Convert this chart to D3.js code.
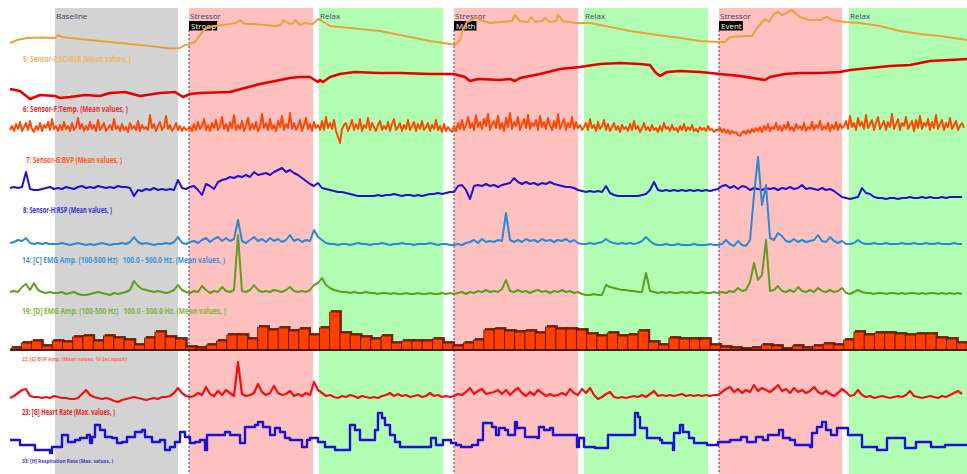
<!DOCTYPE html>
<html>
<head>
<meta charset="utf-8">
<script src="https://cdn.jsdelivr.net/npm/d3@7"></script>
<style>
  body { margin: 0; background: #fff; }
  svg { display: block; }
  text { font-family: "Open Sans", "Liberation Sans", sans-serif; }
</style>
</head>
<body>
<div id="chart"></div>
<script>
// session phases (time in seconds)
const phaseNames = ["Baseline", "Stressor", "Relax", "Stressor", "Relax", "Stressor", "Relax"];
const phaseStart = [90, 358, 618, 888, 1148, 1418, 1678];
const phaseEnd   = [336, 606, 866, 1136, 1396, 1664, 1914];
const eventNames = ["Stroop", "Math", "Event"];
const eventTimes = [358, 888, 1418];
const T_END = 1914;
const SAMPLE_SEC = 8; // uniform series: one value every 8 s
const FAST_SEC = 4;   // raw BVP: one value every 4 s

// 5: GSR  [time, value]
const gsr = [[0,7],[14,10],[34,12],[60,12.5],[90,12],[96,15],[104,13],[120,12],[180,9],[240,6],[280,4],[320,1.5],[340,2],[350,5],[358,5.5],[370,8],[380,15],[390,21],[400,23],[410,24],[424,25],[440,26],[452,27],[460,30],[470,26],[490,26],[510,25],[530,24],[542,25],[546,30],[556,27],[564,26],[570,30],[580,25],[590,27],[606,26],[616,31],[624,29],[640,24],[680,22],[740,19],[800,13],[840,9],[880,6],[890,5],[900,10],[906,20],[914,28],[924,30],[932,33],[940,30],[960,27],[980,28],[1004,29],[1010,35],[1020,29],[1036,28],[1042,33],[1050,28],[1064,29],[1070,32],[1080,28],[1092,29],[1096,35],[1106,29],[1130,27],[1160,27],[1200,23],[1240,19],[1280,16],[1340,12],[1380,9],[1416,8],[1430,8],[1440,13],[1470,14],[1484,14],[1494,22],[1504,28],[1510,31],[1518,28],[1528,36],[1536,38],[1544,35],[1550,36],[1556,38],[1564,40],[1572,36],[1580,33],[1600,30],[1620,30],[1634,33],[1644,30],[1670,28],[1700,27],[1740,24],[1780,19],[1820,16],[1860,14],[1914,10]];

// 6: Temp  [time, value]
const temp = [[0,11],[20,9],[40,1],[60,5],[90,4],[100,2],[120,3],[150,5],[180,4],[200,7],[230,8],[260,4],[300,7],[330,8],[346,3],[360,6],[380,7],[440,8],[470,12],[500,16],[530,19],[560,22],[580,23],[600,23],[616,18],[620,20],[626,18],[640,23],[660,26],[690,28],[740,27],[780,27],[840,26],[888,26],[910,23],[920,19],[936,21],[980,20],[1000,21],[1010,19],[1020,22],[1060,26],[1100,31],[1140,33],[1180,36],[1220,37],[1260,36],[1280,35],[1290,28],[1300,24],[1314,28],[1340,29],[1380,28],[1420,26],[1460,24],[1510,20],[1520,23],[1550,26],[1580,27],[1620,27],[1660,28],[1680,30],[1720,32],[1760,34],[1800,35],[1840,39],[1880,40],[1914,41]];

// 7: BVP (uniform, 4 s)
const bvpRaw = [5,9,4,11,6,13,4,8,12,5,14,6,3,9,5,12,4,10,7,13,5,16,6,9,
  4,10,5,13,6,9,4,12,5,8,17,6,11,4,9,5,13,6,10,4,15,5,8,12,4,7,10,5,16,6,9,4,11,5,8,3,12,6,9,5,14,4,10,6,8,5,20,7,11,4,9,13,5,8,19,6,10,4,7,12,5,9,4,8,5,6,
  8,4,11,5,13,6,9,16,5,10,4,12,7,15,5,9,18,6,11,4,13,7,20,5,10,6,14,4,9,17,5,11,6,13,4,8,21,7,12,5,16,6,10,4,14,8,19,5,11,7,22,6,12,5,9,15,4,10,17,6,11,4,13,7,10,5,
  14,5,18,7,12,6,15,4,-2,-8,6,10,
  12,4,9,15,5,11,6,16,4,10,7,17,5,12,8,4,10,14,5,9,6,13,4,11,16,5,8,12,4,10,6,15,5,9,13,4,11,6,14,5,8,12,4,10,6,15,5,9,3,11,4,8,5,3,
  9,4,12,6,15,5,10,18,7,12,5,20,8,13,6,16,9,21,5,11,14,7,19,6,12,4,17,8,22,6,13,9,18,5,11,16,7,20,6,12,9,15,5,19,8,13,6,17,10,5,14,7,21,6,11,16,5,12,8,18,6,13,7,10,5,8,
  12,5,16,7,10,4,13,6,9,15,5,11,4,8,12,5,9,3,10,6,8,4,11,5,14,6,9,3,7,12,5,8,4,10,5,7,3,9,4,12,6,8,4,10,5,7,3,9,5,11,4,8,5,10,4,6,3,8,5,7,4,9,5,6,3,5,
  5,7,3,6,2,5,1,4,2,3,0,-1,2,4,1,5,2,6,3,7,4,8,3,9,5,11,4,8,6,12,5,9,4,10,6,13,5,8,4,11,6,9,5,12,4,8,6,13,5,10,7,14,5,9,6,12,4,10,6,13,5,11,7,9,
  14,6,19,8,12,5,17,9,13,6,20,7,11,15,5,12,18,6,10,14,5,13,8,21,6,11,16,5,12,9,18,6,10,14,4,15,7,19,6,12,9,16,5,13,7,20,6,11,15,5,12,8,17,6,10,14,5,9,12,7];

// 8: RSP channel trace (uniform)
const bvpMean = [12,13,12,13,28,11,10,10,11,12,13,11,
  12,11,13,12,11,13,14,12,13,12,14,13,12,13,12,14,13,13,12,4,10,9,11,10,12,10,11,10,11,10,20,12,11,
  13,14,10,5,16,14,11,18,20,21,23,22,24,23,25,23,28,25,26,27,25,28,30,32,28,30,27,25,22,19,16,14,17,
  12,11,10,9,8,8,7,6,5,4,4,4,4,4,5,4,5,5,6,5,4,5,5,4,5,4,5,6,6,7,6,7,8,
  8,14,15,10,1,14,15,14,16,14,15,13,15,16,17,22,18,16,18,16,17,15,17,16,18,16,15,14,13,13,12,10,9,
  8,9,8,9,8,14,7,5,4,4,4,4,4,4,5,6,10,18,10,9,10,9,10,9,10,9,10,9,10,9,10,9,10,
  11,14,15,12,14,11,14,13,10,12,11,10,12,11,12,10,12,11,13,11,12,15,11,12,11,10,12,10,11,9,6,3,
  2,1,2,3,12,7,6,3,2,2,1,2,2,1,2,2,3,2,2,3,2,3,2,2,3,2,3,3,3,3];

// 14: EMG C (uniform)
const emgC = [7,8,10,9,12,7,6,7,6,7,6,6,
  6,7,6,5,6,7,6,5,6,5,6,7,6,5,6,6,7,6,8,13,8,6,7,6,5,6,6,7,6,8,13,7,6,
  8,9,7,10,12,8,11,13,9,12,9,11,30,9,7,10,13,9,11,8,12,9,11,8,10,15,9,11,8,10,9,20,13,
  10,7,6,6,5,6,6,5,6,7,6,6,5,6,6,7,6,5,6,6,7,6,6,5,6,6,6,7,6,5,6,6,5,
  5,6,5,7,8,10,7,11,8,9,8,10,9,37,10,8,10,8,11,9,10,8,11,9,10,8,10,9,11,8,10,7,6,
  6,7,6,7,8,11,8,7,6,7,6,7,6,7,9,13,9,6,5,5,6,5,5,6,5,5,5,6,5,5,5,6,5,
  5,6,10,6,4,9,5,4,10,55,93,45,65,12,10,17,14,9,8,11,8,10,8,9,10,15,9,8,13,9,7,9,
  6,6,7,10,7,6,6,7,6,6,7,6,6,6,7,6,6,7,6,6,7,6,6,7,6,6,6,7,6,6];

// 19: EMG D (uniform)
const emgD = [8,9,8,13,16,10,17,10,8,7,8,7,
  7,8,6,7,8,6,5,5,6,7,8,7,6,5,7,6,7,8,10,19,14,11,10,9,8,9,8,7,8,10,15,10,8,
  7,9,8,14,10,7,9,8,13,9,8,10,65,9,8,10,15,10,8,9,8,10,9,8,10,13,9,8,9,8,10,15,17,
  22,15,12,10,9,8,8,7,8,7,7,8,7,7,6,7,7,6,7,6,6,7,6,6,7,6,6,7,6,6,7,6,7,
  6,7,8,6,8,7,9,8,10,8,9,8,11,20,9,8,10,8,9,7,9,10,8,9,7,9,8,10,8,9,7,8,6,
  5,5,6,5,5,15,13,12,11,10,10,9,9,8,8,27,9,8,7,8,7,8,7,7,8,7,8,7,7,8,7,7,8,
  7,8,7,9,8,12,9,10,18,37,20,25,60,9,10,14,9,8,10,8,13,9,8,10,8,12,9,8,10,8,9,12,
  7,6,8,10,8,7,7,6,7,7,6,7,7,6,7,6,7,7,6,7,6,7,7,6,7,6,7,6,7,6];

// 22: BVP amplitude, 10 s epochs
const bvpAmp = [2,7,9,4,9,8,13,14,9,14,12,10,5,12,18,13,11,3,2,5,9,15,15,11,23,20,22,19,21,15,22,38,17,15,13,11,14,7,
  9,9,9,11,7,4,7,10,20,21,19,18,19,17,23,21,21,20,16,14,17,14,15,19,8,5,12,11,11,11,5,3,2,1,2,5,4,1,4,2,4,6,5,10,18,15,17,17,16,15,16,16,12,11,7];

// 23: Heart rate (uniform)
const heartRate = [7,9,12,15,16,9,8,8,7,8,7,9,
  8,7,7,6,6,7,11,15,10,8,7,6,7,6,4,3,5,6,7,8,7,6,5,6,7,6,8,8,9,12,17,12,9,
  8,9,12,10,18,11,9,14,10,15,12,9,43,11,9,10,12,21,13,10,12,19,12,10,11,14,9,11,9,12,10,23,15,
  12,9,10,8,7,9,8,10,9,7,9,8,7,8,7,9,10,12,9,11,9,10,8,9,10,8,9,12,9,10,8,9,8,
  9,11,10,13,17,11,14,16,11,12,13,15,11,15,10,14,17,12,9,13,10,15,12,9,11,9,10,12,10,16,12,10,16,
  12,17,10,6,8,11,13,8,7,8,7,8,9,8,10,8,11,14,9,10,9,10,9,10,11,9,10,9,10,9,10,9,10,
  10,13,16,18,13,16,12,15,13,20,14,17,15,13,16,20,14,16,12,17,13,15,12,14,18,13,11,14,11,9,12,16,
  13,9,10,15,10,8,9,7,8,9,8,7,8,9,8,10,14,9,8,7,8,9,8,7,9,8,10,12,14,11];

// 33: Respiration rate  [time, value] (step)
const respRate = [[0,20],[20,15],[50,10],[80,7],[84,13],[104,25],[116,18],[130,20],[140,22],[154,25],[160,17],[164,23],[170,35],[180,30],[190,23],[204,22],[214,17],[224,18],[234,23],[250,28],[264,30],[270,23],[284,18],[300,20],[310,10],[320,13],[330,18],[340,28],[350,23],[360,17],[370,18],[380,20],[390,10],[394,25],[430,28],[440,25],[460,17],[470,33],[490,35],[496,38],[506,33],[520,25],[530,32],[540,28],[550,22],[560,20],[584,13],[594,20],[600,22],[616,18],[630,13],[650,10],[680,35],[690,30],[700,20],[730,30],[736,47],[744,42],[750,35],[760,25],[770,18],[780,13],[842,22],[852,15],[866,20],[882,17],[892,15],[902,13],[924,15],[936,20],[946,37],[964,33],[972,25],[978,32],[990,30],[996,25],[1010,38],[1014,32],[1030,23],[1054,22],[1058,33],[1068,30],[1080,32],[1086,25],[1134,13],[1138,22],[1148,13],[1170,12],[1196,25],[1250,47],[1256,43],[1260,32],[1274,22],[1300,20],[1304,17],[1326,10],[1328,27],[1340,35],[1346,28],[1358,22],[1368,17],[1394,15],[1416,18],[1440,20],[1462,23],[1474,18],[1492,23],[1506,20],[1516,25],[1538,30],[1546,22],[1560,20],[1570,15],[1600,13],[1604,27],[1614,33],[1624,38],[1632,30],[1642,25],[1654,32],[1676,25],[1704,13],[1734,10],[1754,22],[1790,12],[1812,18],[1842,13],[1870,15],[1914,15]];

const W = 967, H = 474;
const svg = d3.select("#chart").append("svg")
  .attr("width", W).attr("height", H);

const x = d3.scaleLinear().domain([0, T_END]).range([10, 967]);

// phase backgrounds
const phaseFill = { Baseline: "#d3d3d3", Stressor: "#ffc0c0", Relax: "#b1fdb1" };
svg.selectAll("rect.phase")
  .data(phaseNames)
  .join("rect")
  .attr("class", "phase")
  .attr("x", (d, i) => x(phaseStart[i]))
  .attr("y", 8)
  .attr("width", (d, i) => x(phaseEnd[i]) - x(phaseStart[i]))
  .attr("height", H - 8)
  .attr("fill", d => phaseFill[d]);

svg.selectAll("text.phase")
  .data(phaseNames)
  .join("text")
  .attr("x", (d, i) => x(phaseStart[i]) + 1)
  .attr("y", 15)
  .attr("dominant-baseline", "central")
  .attr("font-size", 8)
  .attr("fill", "#3c3c6c")
  .text(d => d);

// event markers
svg.selectAll("line.evt")
  .data(eventTimes)
  .join("line")
  .attr("x1", d => x(d)).attr("x2", d => x(d))
  .attr("y1", 30).attr("y2", H)
  .attr("stroke", "#3a3a6a")
  .attr("stroke-width", 1)
  .attr("stroke-dasharray", "2,2");

const evt = svg.selectAll("g.evt")
  .data(eventNames)
  .join("g")
  .attr("transform", (d, i) => `translate(${x(eventTimes[i])},21)`);
evt.append("text")
  .attr("x", 2).attr("y", 4.5)
  .attr("dominant-baseline", "central")
  .attr("font-size", 8)
  .attr("fill", "#fff")
  .text(d => d)
  .each(function () {
    const b = this.getBBox();
    d3.select(this.parentNode).insert("rect", "text")
      .attr("x", 0).attr("y", 0)
      .attr("width", b.width + 3).attr("height", 9.5)
      .attr("fill", "#000");
  });

// channel lanes
function laneY(base, span) {
  return d3.scaleLinear().domain([0, span]).range([base, base - span]);
}

const lanes = [
  { label: "5: Sensor-E:SC/GSR (Mean values, )", color: "#e9a23b", labelColor: "#efb565",
    y: laneY(50, 45), pts: gsr, width: 2, lx: 23, ly: 58, lw: 108, fs: 8 },
  { label: "6: Sensor-F:Temp. (Mean values, )", color: "#e60000", labelColor: "#ee2b2b",
    y: laneY(100, 45), pts: temp, width: 2.6, lx: 23, ly: 108, lw: 105, fs: 8 },
  { label: "7: Sensor-G:BVP (Mean values, )", color: "#ff4500", labelColor: "#ff5a26",
    y: laneY(135, 30), vals: bvpRaw, step: FAST_SEC, width: 1.9, lx: 26, ly: 159, lw: 96, fs: 8 },
  { label: "8: Sensor-H:RSP (Mean values, )", color: "#2010d2", labelColor: "#3a30d8",
    y: laneY(200, 40), vals: bvpMean, width: 2, lx: 23, ly: 209, lw: 89, fs: 8 },
  { label: "14: [C] EMG Amp. (100-500 Hz)   100.0 - 500.0 Hz. (Mean values, )", color: "#2b88d4", labelColor: "#3c93d6",
    y: laneY(250, 100), vals: emgC, width: 2, lx: 22, ly: 259, lw: 203, fs: 8 },
  { label: "19: [D] EMG Amp. (100-500 Hz)   100.0 - 500.0 Hz. (Mean values, )", color: "#5c9e1e", labelColor: "#7eb640",
    y: laneY(300, 70), vals: emgD, width: 2, lx: 22, ly: 310, lw: 204, fs: 8 },
  { label: "22: [G] BVP Amp. (Mean values, 10 Sec.epoch)", color: "#ff4000", labelColor: "#ff6a48",
    lx: 22, ly: 359, lw: 105, fs: 6 },
  { label: "23: [G] Heart Rate (Max. values, )", color: "#f01010", labelColor: "#f02020",
    y: laneY(405, 50), vals: heartRate, width: 2.2, lx: 22, ly: 411, lw: 93, fs: 8 },
  { label: "33: [H] Respiration Rate (Max. values, )", color: "#1a10d8", labelColor: "#3a30d8",
    y: laneY(460, 50), pts: respRate, width: 2.4, stepCurve: true, lx: 22, ly: 461, lw: 91, fs: 6 }
];

// bars for BVP amplitude
const barTop = laneY(350, 40);
const xb = d3.scaleBand().domain(d3.range(bvpAmp.length)).range([11, 967]).padding(0);
const bars = svg.append("g");
bars.selectAll("rect.back")
  .data(bvpAmp)
  .join("rect")
  .attr("x", (d, i) => xb(i) + 1.6)
  .attr("y", d => barTop(d) - 1.6)
  .attr("width", xb.bandwidth())
  .attr("height", d => 350 - barTop(d) + 1.6)
  .attr("fill", "#8e2000")
  .attr("stroke", "#4a1000")
  .attr("stroke-width", 0.6);
bars.selectAll("rect.front")
  .data(bvpAmp)
  .join("rect")
  .attr("x", (d, i) => xb(i))
  .attr("y", d => barTop(d))
  .attr("width", xb.bandwidth())
  .attr("height", d => 350 - barTop(d))
  .attr("fill", "#ff4000")
  .attr("stroke", "#5a1400")
  .attr("stroke-width", 0.8);
bars.append("line")
  .attr("x1", 10).attr("x2", 967)
  .attr("y1", 350).attr("y2", 350)
  .attr("stroke", "#2a0c00").attr("stroke-width", 1.6);

// traces
lanes.forEach(l => {
  if (!l.y) return;
  let line;
  let data;
  if (l.pts) {
    data = l.pts;
    line = d3.line().x(d => x(d[0])).y(d => l.y(d[1]));
    if (l.stepCurve) line.curve(d3.curveStepAfter);
  } else {
    const dt = l.step || SAMPLE_SEC;
    data = l.vals;
    line = d3.line().x((d, i) => x(i * dt)).y(d => l.y(d));
  }
  svg.append("path")
    .datum(data)
    .attr("fill", "none")
    .attr("stroke", l.color)
    .attr("stroke-width", l.width)
    .attr("stroke-linejoin", "round")
    .attr("d", line);
});

// channel captions
svg.selectAll("text.lab")
  .data(lanes)
  .join("text")
  .attr("class", "lab")
  .attr("x", d => d.lx)
  .attr("y", d => d.ly)
  .attr("dominant-baseline", "central")
  .attr("font-size", d => d.fs)
  .attr("font-weight", "bold")
  .attr("fill", d => d.labelColor)
  .attr("textLength", d => d.lw)
  .attr("lengthAdjust", "spacingAndGlyphs")
  .style("white-space", "pre")
  .text(d => d.label);
</script>
</body>
</html>
